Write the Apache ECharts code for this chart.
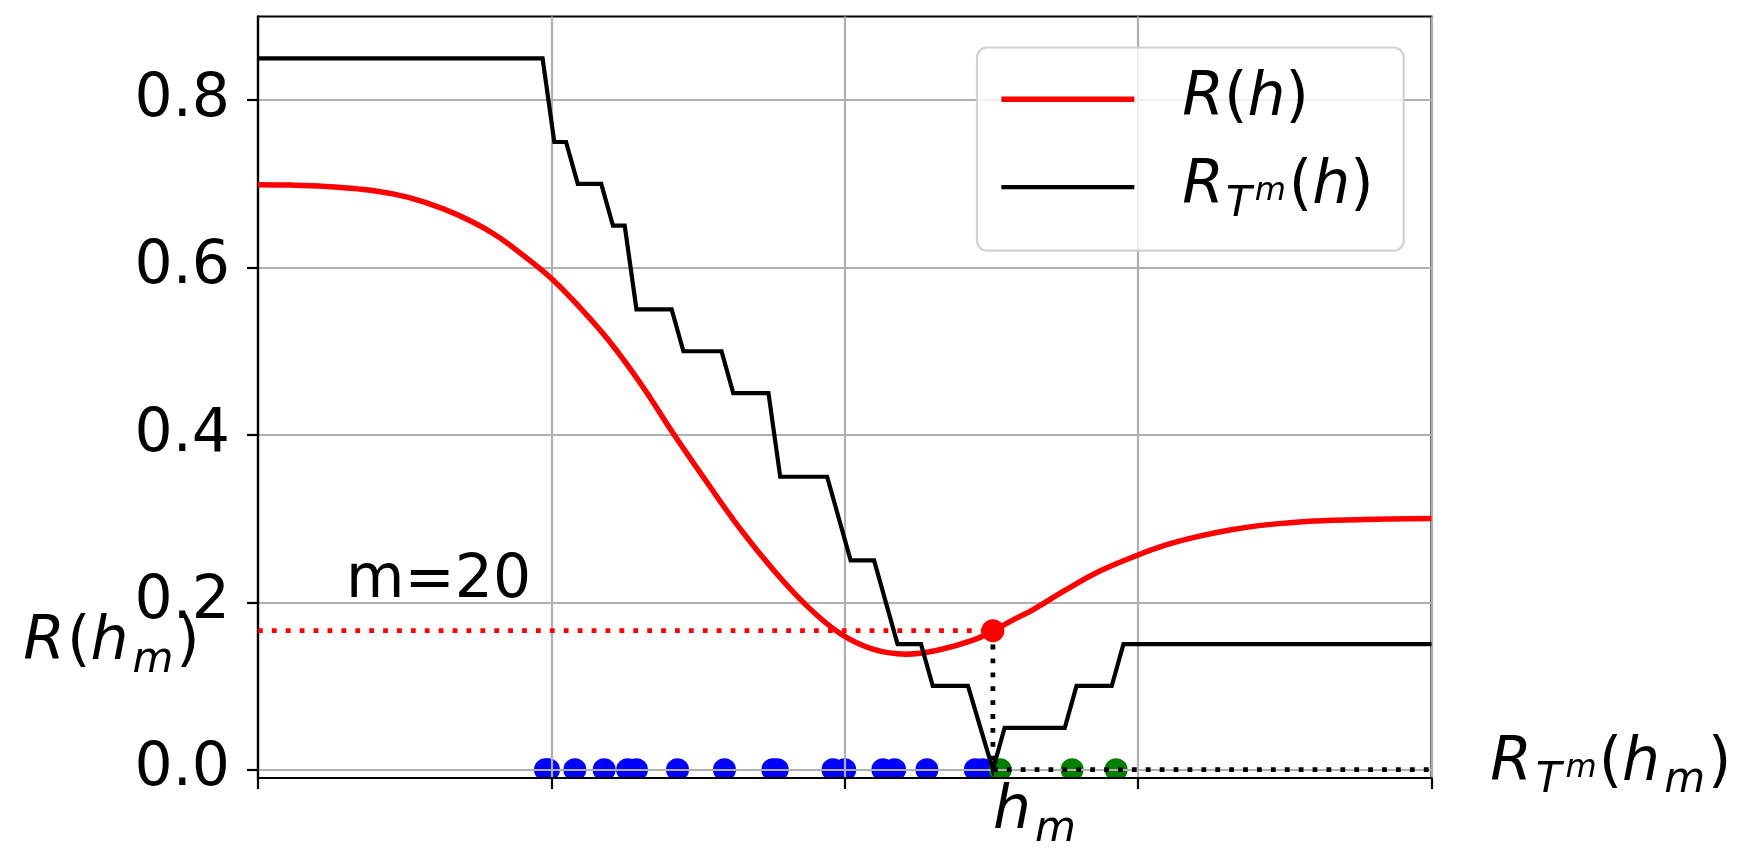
<!DOCTYPE html>
<html>
<head>
<meta charset="utf-8">
<script src="https://cdn.jsdelivr.net/npm/echarts@6/dist/echarts.min.js"></script>
<style>
  html, body { margin: 0; padding: 0; background: #ffffff; }
  #chart { width: 1742px; height: 852px; }
</style>
</head>
<body>
<div id="chart"></div>
<script>
// True risk R(h) sampled along h
const hCurve = [0.00, 0.11, 0.23, 0.34, 0.46, 0.57, 0.68, 0.80, 0.91, 1.00, 1.09, 1.193,
  1.307, 1.415, 1.529, 1.643, 1.756, 1.87, 1.983, 2.096, 2.21, 2.32, 2.44, 2.505, 2.585, 2.641,
  2.755, 2.868, 3.00, 3.095, 3.209, 3.322, 3.436, 3.549, 3.663, 3.776, 4.00];
const riskCurve = [0.699, 0.6985, 0.697, 0.694, 0.688, 0.678, 0.663, 0.641, 0.613, 0.587, 0.555, 0.514,
  0.460, 0.402, 0.344, 0.288, 0.239, 0.196, 0.163, 0.144, 0.138, 0.143, 0.155, 0.166, 0.181, 0.191,
  0.215, 0.237, 0.2565, 0.2685, 0.279, 0.287, 0.2925, 0.296, 0.298, 0.299, 0.300];

// Empirical risk R_{T^m}(h): vertices of the evaluated step curve
const stepH = [0, 0.97, 1.01, 1.05, 1.09, 1.17, 1.21, 1.25, 1.29, 1.41, 1.45, 1.58, 1.62, 1.74,
  1.78, 1.94, 2.02, 2.10, 2.18, 2.26, 2.30, 2.42, 2.505, 2.545, 2.75, 2.79, 2.91, 2.95, 4];
const stepRisk = [0.85, 0.85, 0.75, 0.75, 0.70, 0.70, 0.65, 0.65, 0.55, 0.55, 0.50, 0.50, 0.45, 0.45,
  0.35, 0.35, 0.25, 0.25, 0.15, 0.15, 0.10, 0.10, 0.00, 0.05, 0.05, 0.10, 0.10, 0.15, 0.15];

// Training sample T^m (m = 20): positions of the two classes
const blueH = [0.98, 0.99, 1.08, 1.18, 1.26, 1.29, 1.43, 1.59, 1.755, 1.77, 1.96, 2.00, 2.13, 2.17,
  2.28, 2.445, 2.47];
const greenH = [2.53, 2.775, 2.925];

// Empirical risk minimiser and its true risk
const hM = 2.505;
const riskAtHm = 0.166;
const empRiskAtHm = 0;

const yTickValues = [0, 0.2, 0.4, 0.6, 0.8];
const xRange = [0, 4];
const yRange = [-0.01, 0.9];

const NAME_R = 'R(h)';
const NAME_RT = 'R_T^m(h)';

const FONT = '"DejaVu Sans", sans-serif';
const LH = 70;
const BASE = 56;       // baseline offset inside a rich-text line
const DOT_R = 11.5;

// Rich-text token: 'shift' moves the glyph baseline down (+) or up (-)
function tok(fs, italic, shift, leftPad, rightPad) {
  return {
    fontFamily: FONT, fontSize: fs, fontStyle: italic ? 'italic' : 'normal',
    color: '#000000', lineHeight: LH, verticalAlign: 'top',
    padding: [BASE + shift - fs / 2 - 0.346 * fs, rightPad || 0, 0, leftPad || 0]
  };
}
// Math labels in the plot area
const mathRich = {
  i: tok(60, true, 0, 0, 2),
  n: tok(60, false, 0),
  sb: tok(42, true, 11, 2, 3),
  sp: tok(32, true, -5, 1, 2)
};
// Legend labels (first token carries the gap after the line sample)
const legendRich = {
  lead: tok(60, true, 0, 43, 0),
  i: tok(60, true, 0),
  n: tok(60, false, 0),
  sb: tok(42, true, 11, 2, 2),
  sp: tok(32, true, -5, 1, 3)
};

const legendText = {};
legendText[NAME_R] = '{lead|R}{n|(}{i|h}{n|)}';
legendText[NAME_RT] = '{lead|R}{sb|T}{sp|m}{n|(}{i|h}{n|)}';

// Text annotations anchored in data coordinates (left edge, baseline)
const noteAnchors = [[0.3, 0.2], [-0.8, riskAtHm - 0.04], [hM, -0.076], [4.2, -0.018]];
const noteTexts = [
  '{n|m=20}',
  '{i|R}{n|(}{i|h}{sb|m}{n|)}',
  '{i|h}{sb|m}',
  '{i|R}{sb|T}{sp|m}{n|(}{i|h}{sb|m}{n|)}'
];

const pairs = (xs, ys) => xs.map((x, k) => [x, ys[k]]);

function dotRenderer(color) {
  return function (params, api) {
    const p = api.coord([api.value(0), api.value(1)]);
    return { type: 'circle', shape: { cx: p[0], cy: p[1], r: DOT_R }, style: { fill: color } };
  };
}

const dotted = (color) => ({ color: color, width: 4.8, type: [4.8, 9.1], cap: 'butt' });

const chart = echarts.init(document.getElementById('chart'), null, { renderer: 'canvas' });

chart.setOption({
  animation: false,
  backgroundColor: '#ffffff',
  grid: {
    left: 258, right: 310.5, top: 16.5, bottom: 74,
    show: true, borderColor: '#000000', borderWidth: 2.2, backgroundColor: 'transparent'
  },
  legend: {
    data: [NAME_R, NAME_RT],
    orient: 'vertical',
    left: 977, top: 47.5,
    itemWidth: 133, itemHeight: 14, itemGap: 22.7,
    padding: [16.7, 30, 25, 21.6],
    backgroundColor: 'rgba(255,255,255,0.8)',
    borderColor: 'rgba(204,204,204,0.9)', borderWidth: 2.2, borderRadius: 10,
    selectedMode: false,
    itemStyle: { color: 'transparent', borderColor: 'transparent', borderWidth: 0, opacity: 0 },
    lineStyle: { width: 'inherit' },
    formatter: (name) => legendText[name],
    textStyle: { color: '#000000', rich: legendRich }
  },
  xAxis: {
    type: 'value', min: xRange[0], max: xRange[1], interval: 1,
    axisLine: { show: true, onZero: false, lineStyle: { color: '#000000', width: 2.2 } },
    axisTick: { show: true, inside: false, length: 11, lineStyle: { color: '#000000', width: 2.2 } },
    axisLabel: { show: false },
    splitLine: { show: true, lineStyle: { color: '#b0b0b0', width: 2.2 } }
  },
  yAxis: {
    type: 'value', min: yRange[0], max: yRange[1],
    axisLine: { show: true, onZero: false, lineStyle: { color: '#000000', width: 2.2 } },
    axisTick: { show: true, inside: false, length: 11, customValues: yTickValues,
      lineStyle: { color: '#000000', width: 2.2 } },
    axisLabel: {
      show: true, customValues: yTickValues, margin: 28,
      formatter: (v) => v.toFixed(1),
      color: '#000000', fontSize: 60, fontFamily: FONT
    },
    splitLine: { show: true, lineStyle: { color: '#b0b0b0', width: 2.2 } }
  },
  series: [
    {
      name: 'samples-blue', type: 'custom', coordinateSystem: 'cartesian2d', clip: true, z: -1,
      silent: true, renderItem: dotRenderer('#0000ff'), data: blueH.map((h) => [h, 0])
    },
    {
      name: 'samples-green', type: 'custom', coordinateSystem: 'cartesian2d', clip: true, z: -1,
      silent: true, renderItem: dotRenderer('#008000'), data: greenH.map((h) => [h, 0])
    },
    {
      name: NAME_R, type: 'line', data: pairs(hCurve, riskCurve), smooth: 0.4,
      symbol: 'none', showSymbol: false, z: 2,
      lineStyle: { color: '#ff0000', width: 5.5 }, itemStyle: { color: '#ff0000' }
    },
    {
      name: NAME_RT, type: 'line', data: pairs(stepH, stepRisk),
      symbol: 'none', showSymbol: false, z: 3,
      lineStyle: { color: '#000000', width: 4.2, join: 'miter' }, itemStyle: { color: '#000000' }
    },
    {
      name: 'hm-level', type: 'line', data: [[xRange[0], riskAtHm], [hM, riskAtHm]],
      symbol: 'none', z: 4, silent: true, lineStyle: dotted('#ff0000')
    },
    {
      name: 'hm-drop', type: 'line', data: [[hM, riskAtHm], [hM, empRiskAtHm]],
      symbol: 'none', z: 4, silent: true, lineStyle: dotted('#000000')
    },
    {
      name: 'hm-emp', type: 'line', data: [[hM, empRiskAtHm], [xRange[1], empRiskAtHm]],
      symbol: 'none', z: 4, silent: true, lineStyle: dotted('#000000')
    },
    {
      name: 'hm-point', type: 'scatter', data: [[hM, riskAtHm]], symbolSize: 23, z: 5,
      silent: true, itemStyle: { color: '#ff0000', opacity: 1 }
    },
    {
      name: 'notes', type: 'custom', coordinateSystem: 'cartesian2d', clip: false, z: 6,
      silent: true, data: noteAnchors,
      renderItem: function (params, api) {
        const p = api.coord([api.value(0), api.value(1)]);
        return {
          type: 'text', x: p[0], y: p[1] - BASE,
          style: { text: noteTexts[params.dataIndex], rich: mathRich, align: 'left', verticalAlign: 'top' }
        };
      }
    }
  ]
});
</script>
</body>
</html>
